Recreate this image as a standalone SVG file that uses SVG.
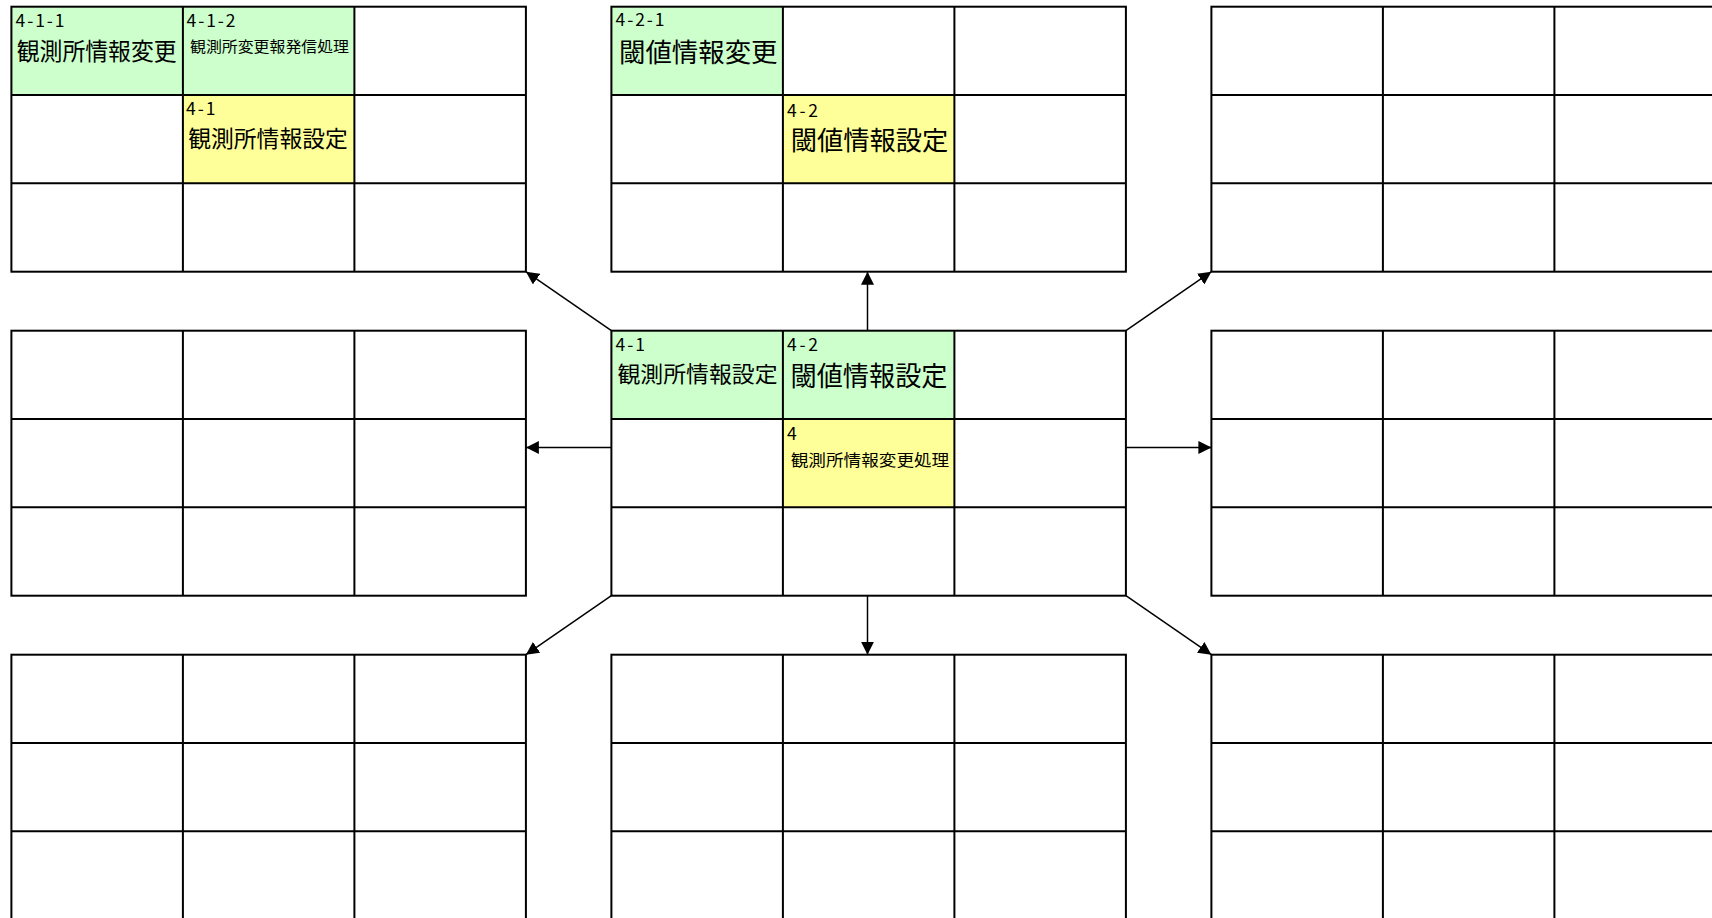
<svg xmlns="http://www.w3.org/2000/svg" xmlns:xlink="http://www.w3.org/1999/xlink" width="1712" height="918" viewBox="0 0 1712 918">
  <style>
    .gl { fill: none; stroke: #000; stroke-width: 2; }
    .green { fill: #CCFFCC; }
    .yellow { fill: #FFFF99; }
    .lbl { font-family: "Noto Sans CJK JP", "Noto Sans", sans-serif; font-size: 17.5px; fill: #000; }
    .jp { font-family: "Noto Sans CJK JP", sans-serif; fill: #000; text-anchor: middle; }
    .conn { stroke: #000; stroke-width: 1.5; fill: none; marker-end: url(#arrow); }
  </style>
  <defs>
    <marker id="arrow" markerUnits="userSpaceOnUse" markerWidth="13" markerHeight="13" viewBox="0 0 13 13" refX="13" refY="6.5" orient="auto">
      <path d="M0,0 L13,6.5 L0,13 Z" fill="#000"/>
    </marker>
    <g id="grid">
      <rect class="gl" x="0" y="0" width="514.5" height="265"/>
      <path class="gl" d="M171.5,0 V265 M343,0 V265 M0,88.33 H514.5 M0,176.67 H514.5"/>
    </g>
  </defs>
  <rect x="0" y="0" width="1712" height="918" fill="#fff"/>

  <g id="block-top-left">
    <rect class="green" x="11.4" y="6.7" width="171.5" height="88.33"/>
    <rect class="green" x="182.9" y="6.7" width="171.5" height="88.33"/>
    <rect class="yellow" x="182.9" y="95.03" width="171.5" height="88.33"/>
    <use xlink:href="#grid" x="11.4" y="6.7"/>
    <text class="lbl" x="15.5" y="26.7" textLength="49">4-1-1</text>
    <text class="jp" x="96.7" y="59.5" font-size="24" textLength="160" lengthAdjust="spacingAndGlyphs">観測所情報変更</text>
    <text class="lbl" x="186.5" y="26.7" textLength="49">4-1-2</text>
    <text class="jp" x="269.5" y="51.7" font-size="14.5" textLength="159" lengthAdjust="spacingAndGlyphs">観測所変更報発信処理</text>
    <text class="lbl" x="186" y="115.2" textLength="29.5">4-1</text>
    <text class="jp" x="268" y="146.7" font-size="23" textLength="159.5" lengthAdjust="spacingAndGlyphs">観測所情報設定</text>
  </g>

  <g id="block-top-center">
    <rect class="green" x="611.4" y="6.7" width="171.5" height="88.33"/>
    <rect class="yellow" x="782.9" y="95.03" width="171.5" height="88.33"/>
    <use xlink:href="#grid" x="611.4" y="6.7"/>
    <text class="lbl" x="615.5" y="26.2" textLength="49">4-2-1</text>
    <text class="jp" x="698.3" y="61.5" font-size="26" textLength="158.5" lengthAdjust="spacingAndGlyphs">閾値情報変更</text>
    <text class="lbl" x="787" y="116.7" textLength="31">4-2</text>
    <text class="jp" x="869.5" y="150" font-size="26" textLength="157.5" lengthAdjust="spacingAndGlyphs">閾値情報設定</text>
  </g>

  <g id="block-top-right">
    <use xlink:href="#grid" x="1211.4" y="6.7"/>
  </g>

  <g id="block-mid-left">
    <use xlink:href="#grid" x="11.4" y="330.7"/>
  </g>

  <g id="block-center">
    <rect class="green" x="611.4" y="330.7" width="171.5" height="88.33"/>
    <rect class="green" x="782.9" y="330.7" width="171.5" height="88.33"/>
    <rect class="yellow" x="782.9" y="419.03" width="171.5" height="88.33"/>
    <use xlink:href="#grid" x="611.4" y="330.7"/>
    <text class="lbl" x="615.5" y="350.9" textLength="29.5">4-1</text>
    <text class="jp" x="697.5" y="381.8" font-size="22" textLength="160" lengthAdjust="spacingAndGlyphs">観測所情報設定</text>
    <text class="lbl" x="787" y="350.9" textLength="31">4-2</text>
    <text class="jp" x="869" y="385.5" font-size="27" textLength="157" lengthAdjust="spacingAndGlyphs">閾値情報設定</text>
    <text class="lbl" x="787" y="440.2">4</text>
    <text class="jp" x="870" y="465.5" font-size="16" textLength="158.5" lengthAdjust="spacingAndGlyphs">観測所情報変更処理</text>
  </g>

  <g id="block-mid-right">
    <use xlink:href="#grid" x="1211.4" y="330.7"/>
  </g>

  <g id="block-bottom-left">
    <use xlink:href="#grid" x="11.4" y="654.7"/>
  </g>

  <g id="block-bottom-center">
    <use xlink:href="#grid" x="611.4" y="654.7"/>
  </g>

  <g id="block-bottom-right">
    <use xlink:href="#grid" x="1211.4" y="654.7"/>
  </g>

  <g id="connectors">
    <line class="conn" x1="611.4" y1="330.7" x2="525.9" y2="271.7"/>
    <line class="conn" x1="867.5" y1="330.7" x2="867.5" y2="271.7"/>
    <line class="conn" x1="1125.9" y1="330.7" x2="1211.4" y2="271.7"/>
    <line class="conn" x1="611.4" y1="447.5" x2="525.9" y2="447.5"/>
    <line class="conn" x1="1125.9" y1="447.5" x2="1211.4" y2="447.5"/>
    <line class="conn" x1="611.4" y1="595.7" x2="525.9" y2="654.7"/>
    <line class="conn" x1="867.5" y1="595.7" x2="867.5" y2="654.7"/>
    <line class="conn" x1="1125.9" y1="595.7" x2="1211.4" y2="654.7"/>
  </g>
</svg>
